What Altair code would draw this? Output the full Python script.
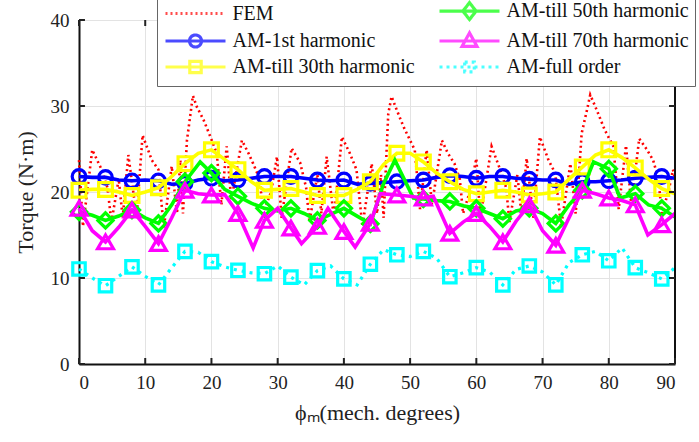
import altair as alt
import pandas as pd

# ---------------------------------------------------------------------------
# Torque vs rotor position (mechanical degrees)
# ---------------------------------------------------------------------------

series_names = [
    "FEM",
    "AM-1st harmonic",
    "AM-till 30th harmonic",
    "AM-till 50th harmonic",
    "AM-till 70th harmonic",
    "AM-full order",
]
series_colors = ["#ff0000", "#0000ff", "#ffff00", "#00ff00", "#ff00ff", "#00ffff"]

# FEM reference torque
fem_deg = [0, 0.6, 2.0, 3.3, 4.3, 4.9, 6.0, 6.6, 7.45, 8.7, 9.6, 11.0, 12.0, 12.8,
           14.0, 14.8, 15.3, 15.7, 16.3, 17.2, 17.8, 18.8, 19.8, 20.8, 21.5, 22.3,
           23.0, 24.6, 25.6, 26.3, 27.3, 27.8, 29.0, 29.9, 30.6, 32.1, 33.4, 34.3,
           34.8, 36.0, 36.6, 37.4, 38.5, 39.7, 40.9, 41.9, 42.8, 44.2, 45.0, 45.6,
           46.0, 46.7, 47.2, 48.0, 49.0, 50.0, 50.7, 51.5, 52.5, 53.3, 54.8, 55.7,
           56.7, 57.5, 58.0, 59.0, 60.0, 60.6, 62.3, 63.6, 64.5, 65.0, 66.2, 66.8,
           67.6, 68.6, 69.6, 70.9, 71.9, 72.8, 74.2, 75.0, 75.5, 75.9, 76.7, 77.2,
           78.2, 79.4, 80.7, 81.5, 82.6, 83.4, 84.6, 85.7, 86.7, 87.5, 88.0, 89.0,
           89.7, 90]
fem_val = [23.7, 16.0, 24.9, 22.8, 20.5, 16.5, 21.5, 17.0, 24.3, 17.1, 26.6, 23.7,
           22.6, 15.8, 23.0, 17.5, 23.7, 17.5, 26.0, 31.2, 29.9, 28.4, 26.5, 24.5,
           18.5, 25.3, 19.0, 26.0, 24.5, 23.3, 21.5, 17.5, 20.0, 24.1, 17.0, 25.1,
           23.4, 20.5, 16.5, 22.0, 17.5, 24.1, 17.0, 26.4, 24.5, 22.6, 16.0, 23.3,
           17.5, 22.0, 17.0, 29.1, 31.1, 29.5, 27.6, 26.0, 24.9, 18.0, 24.9, 18.5,
           26.0, 24.5, 23.3, 21.5, 17.5, 20.0, 23.9, 17.0, 25.3, 22.6, 20.5, 16.5,
           22.0, 17.5, 23.9, 17.0, 26.4, 23.7, 22.2, 16.0, 23.3, 17.5, 22.0, 26.8,
           29.5, 31.3, 29.5, 27.2, 25.3, 18.0, 25.4, 18.5, 26.2, 25.0, 23.7, 21.5,
           17.5, 20.0, 22.6, 21.5]

# analytical model, fundamental only
am1_deg = list(range(0, 91, 2))
am1_val = [21.8, 21.7, 21.7, 21.4, 21.3, 21.4, 21.3, 20.9, 21.0, 21.4, 21.6, 21.3,
           21.4, 21.6, 21.8, 21.8, 21.8, 21.6, 21.4, 21.3, 21.4, 20.9, 21.0, 21.1,
           21.2, 21.3, 21.4, 21.7, 21.9, 21.8, 21.6, 21.8, 21.8, 21.6, 21.5, 21.4,
           21.4, 20.9, 21.2, 21.2, 21.3, 21.4, 21.6, 21.7, 21.8, 21.6]

# analytical model up to the 30th harmonic
am30_deg = list(range(0, 91, 2))
am30_val = [20.2, 20.3, 20.3, 20.0, 19.6, 20.0, 20.5, 21.8, 23.3, 24.5, 24.9, 23.8,
            22.6, 21.2, 20.2, 20.3, 20.4, 20.0, 19.6, 19.6, 19.6, 20.3, 21.2, 23.2,
            24.5, 24.5, 23.5, 22.2, 21.2, 20.3, 19.8, 20.0, 20.2, 20.0, 19.65, 19.8,
            20.0, 21.5, 22.9, 24.3, 24.9, 24.0, 22.8, 21.5, 20.4, 19.8]

# analytical model up to the 50th harmonic
am50_deg = [0, 2, 4, 6, 8, 10, 12, 14, 16, 18.3, 20, 22, 24, 26, 28, 30, 32, 34, 36,
            38, 40, 42, 44, 46, 47.7, 50.5, 52, 54, 56, 58, 60, 62, 64, 66, 68, 70,
            72, 74, 76, 77.7, 80, 81.7, 84, 86, 88, 90]
am50_val = [17.7, 17.3, 16.7, 17.2, 17.9, 17.0, 16.35, 18.5, 21.2, 23.5, 22.2, 20.3,
            19.5, 18.7, 18.1, 17.8, 18.1, 17.5, 16.7, 17.4, 18.1, 17.2, 16.3, 21.0,
            23.7, 19.3, 19.2, 19.0, 18.9, 18.4, 18.1, 17.5, 16.9, 17.8, 18.1, 17.5,
            16.35, 18.5, 20.2, 23.5, 22.7, 19.3, 19.8, 18.5, 18.1, 17.1]

# analytical model up to the 70th harmonic
am70_deg = [0, 2, 4, 6, 8, 10, 12, 14, 16, 18, 20, 22, 24, 26.3, 28, 30, 32, 33.6,
            36, 37.6, 40, 41.7, 44, 45.5, 48, 50, 52, 53.5, 56, 58, 60, 62, 64, 66,
            68, 70, 72, 74, 76, 78, 80, 82, 84, 85.9, 88, 90]
am70_val = [18.1, 15.5, 14.2, 15.9, 17.9, 16.0, 14.0, 17.0, 20.2, 19.8, 19.65, 19.7,
            17.5, 13.5, 16.7, 18.1, 15.8, 14.0, 16.0, 18.1, 15.4, 13.6, 16.35, 19.8,
            19.65, 19.5, 19.3, 19.5, 15.2, 16.5, 17.5, 16.0, 14.2, 16.6, 18.5, 15.5,
            13.8, 17.0, 20.2, 19.8, 19.3, 19.0, 18.5, 15.0, 16.2, 17.5]

# full-order analytical model
amf_deg = list(range(0, 91, 2))
amf_val = [11.05, 10.0, 9.1, 10.2, 11.3, 10.2, 9.2, 11.2, 13.1, 13.0, 11.9, 11.3,
           10.9, 10.6, 10.5, 11.4, 10.1, 9.2, 10.85, 11.4, 9.9, 9.2, 11.6, 13.3,
           12.7, 12.5, 13.1, 12.3, 10.15, 10.6, 11.2, 10.7, 9.2, 11.0, 11.4, 10.7,
           9.2, 11.8, 12.7, 13.1, 12.0, 13.5, 11.2, 10.6, 9.9, 11.2]

marker_step = 4          # a marker on every 4th degree
x_ticks = [0, 10, 20, 30, 40, 50, 60, 70, 80, 90]
y_ticks = [0, 10, 20, 30, 40]

# legend symbols: a short line with the series marker sitting on it
legend_paths = {
    "FEM": "M-5,0H5",
    "AM-1st harmonic": "M-5,0H5M-1,0A1,1 0 1,1 1,0A1,1 0 1,1 -1,0",
    "AM-till 30th harmonic": "M-5,0H5M-0.95,-0.95H0.95V0.95H-0.95Z",
    "AM-till 50th harmonic": "M-5,0H5M0,-1.4L1.1,0L0,1.4L-1.1,0Z",
    "AM-till 70th harmonic": "M-5,0H5M0,-1.35L1.25,0.9H-1.25Z",
    "AM-full order": "M-5,0H5M-0.8,-0.8H0.8V0.8H-0.8Z",
}
legend_dash = {"FEM": [2, 3], "AM-full order": [3, 4]}

point_shapes = {
    "AM-1st harmonic": "circle",
    "AM-till 30th harmonic": "square",
    "AM-till 50th harmonic": "diamond",
    "AM-till 70th harmonic": "triangle-up",
    "AM-full order": "square",
}
point_sizes = {
    "AM-1st harmonic": 185,
    "AM-till 30th harmonic": 190,
    "AM-till 50th harmonic": 230,
    "AM-till 70th harmonic": 250,
    "AM-full order": 155,
}

series_data = {
    "FEM": (fem_deg, fem_val),
    "AM-1st harmonic": (am1_deg, am1_val),
    "AM-till 30th harmonic": (am30_deg, am30_val),
    "AM-till 50th harmonic": (am50_deg, am50_val),
    "AM-till 70th harmonic": (am70_deg, am70_val),
    "AM-full order": (amf_deg, amf_val),
}

rows = []
for name in series_names:
    xs, ys = series_data[name]
    for i, (xv, yv) in enumerate(zip(xs, ys)):
        is_marker = (float(xv) % marker_step == 0) and xv < 90
        rows.append({"series": name, "deg": xv, "torque": yv, "order": i,
                     "marker": bool(is_marker)})
df = pd.DataFrame(rows)

FONT = "Liberation Serif"

x_scale = alt.Scale(domain=[0, 90], nice=False)
y_scale = alt.Scale(domain=[0, 40], nice=False)

axis_style = dict(grid=True, tickSize=0, labelFont=FONT, titleFont=FONT,
                  labelFontSize=19, titleFontSize=22, labelColor="#222222",
                  titleColor="#222222", titleFontWeight="normal")

# every layer carries the same axis definition so the shared axes merge cleanly
X = alt.X("deg:Q", scale=x_scale,
          axis=alt.Axis(values=x_ticks, title="ϕₘ(mech. degrees)",
                        labelPadding=9, titlePadding=10, **axis_style))
Y = alt.Y("torque:Q", scale=y_scale,
          axis=alt.Axis(values=y_ticks, title="Torque (N·m)",
                        labelPadding=10, titlePadding=13, **axis_style))

base = alt.Chart(df)
layers = []

for idx, name in enumerate(series_names):
    color = series_colors[idx]
    sub = base.transform_filter(alt.datum.series == name)
    if name == "FEM":
        line = sub.mark_line(color=color, strokeWidth=2.6, strokeDash=[2, 3.2])
    elif name == "AM-full order":
        line = sub.mark_line(color=color, strokeWidth=3.2, strokeDash=[3, 5])
    else:
        line = sub.mark_line(color=color, strokeWidth=3.6)
    layers.append(line.encode(x=X, y=Y, order="order:Q"))
    if name in point_shapes:
        pts = sub.transform_filter(alt.datum.marker).mark_point(
            shape=point_shapes[name], size=point_sizes[name], filled=False,
            color=color, strokeWidth=3.2, opacity=1,
        ).encode(x=X, y=Y)
        layers.append(pts)

# frame: right edge plus inward tick marks on all four sides
right_edge = pd.DataFrame({"deg": [90.0], "torque": [0.0], "torque2": [40.0]})
layers.append(alt.Chart(right_edge).mark_rule(color="#111111", strokeWidth=2).encode(
    x=X, y=Y, y2="torque2:Q"))

ticks_left = pd.DataFrame({"torque": y_ticks, "deg": 0.0, "deg2": 0.9})
ticks_right = pd.DataFrame({"torque": y_ticks, "deg": 89.1, "deg2": 90.0})
ticks_bottom = pd.DataFrame({"deg": x_ticks, "torque": 0.0, "torque2": 0.7})
ticks_top = pd.DataFrame({"deg": x_ticks, "torque": 39.3, "torque2": 40.0})
for tdf in (ticks_left, ticks_right):
    layers.append(alt.Chart(tdf).mark_rule(color="#222222", strokeWidth=2).encode(
        x=X, x2="deg2:Q", y=Y))
for tdf in (ticks_bottom, ticks_top):
    layers.append(alt.Chart(tdf).mark_rule(color="#222222", strokeWidth=2).encode(
        x=X, y=Y, y2="torque2:Q"))

# legend: driven by explicit scale domains, so the layer needs no rows
legend_props = dict(title=None, orient="none", legendX=78, legendY=-25,
                    columns=2, symbolOffset=22.5, labelOffset=27,
                    columnPadding=18, rowPadding=0)
legend_df = pd.DataFrame({"series": series_names, "deg": 0.0, "torque": 0.0})
legend_layer = alt.Chart(legend_df).transform_filter("false").mark_point(
    filled=False, strokeWidth=3.2, size=144
).encode(
    x=X, y=Y,
    color=alt.Color("series:N", scale=alt.Scale(domain=series_names, range=series_colors),
                    legend=alt.Legend(**legend_props)),
    shape=alt.Shape("series:N", scale=alt.Scale(
        domain=series_names, range=[legend_paths[n] for n in series_names]),
        legend=alt.Legend(**legend_props)),
    strokeDash=alt.StrokeDash("series:N", scale=alt.Scale(
        domain=series_names, range=[legend_dash.get(n, [1, 0]) for n in series_names]),
        legend=alt.Legend(**legend_props)),
)
layers.append(legend_layer)

chart = alt.layer(*layers).properties(
    width=596,
    height=344,
    autosize=alt.AutoSizeParams(type="none"),
    padding={"left": 79, "top": 20, "right": 24, "bottom": 78},
).configure(
    font=FONT
).configure_view(
    stroke="#555555", strokeWidth=1
).configure_axis(
    gridColor="#e3e3e3", gridWidth=1, domainColor="#111111", domainWidth=2,
).configure_legend(
    labelFont=FONT, labelFontSize=20, labelColor="#111111", labelLimit=300,
    strokeColor="#666666", fillColor="white", padding=6, symbolStrokeWidth=3.2,
    symbolSize=144, symbolFillColor="transparent",
)

chart.save("out.html", embed_options={"renderer": "svg", "actions": False})
